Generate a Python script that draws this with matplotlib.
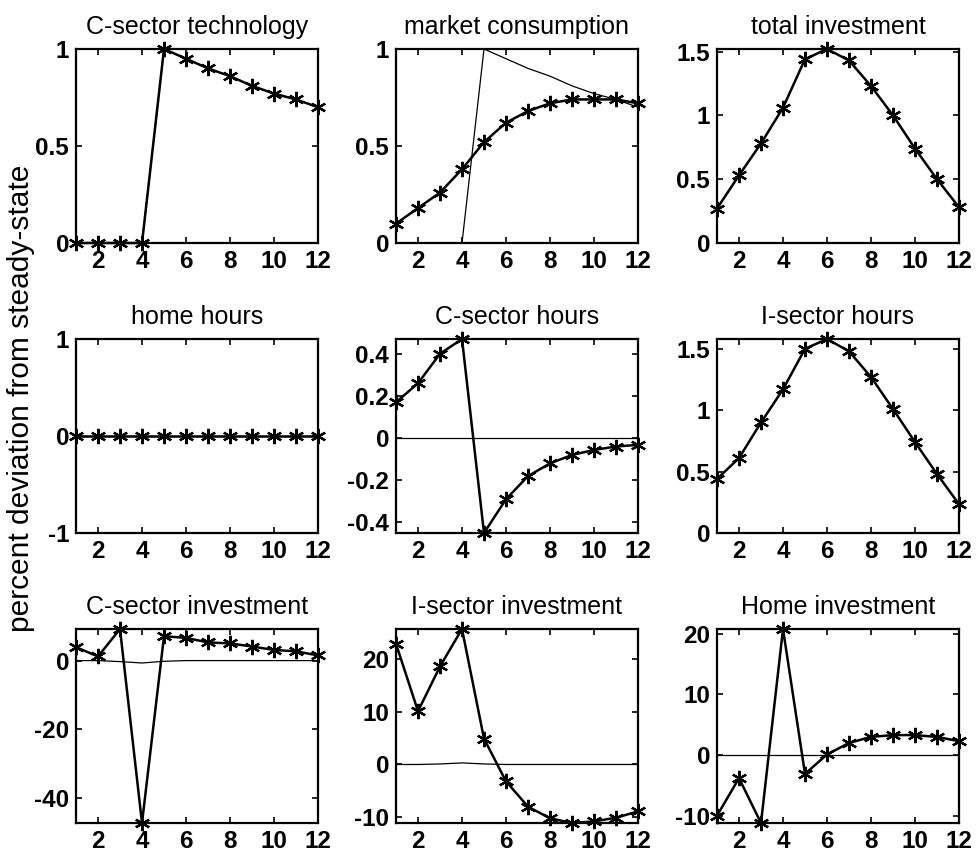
import numpy as np
import matplotlib.pyplot as plt

plt.rcParams['font.family'] = ['Liberation Sans', 'DejaVu Sans']

periods = np.arange(1, 13)

titles = ['C-sector technology', 'market consumption', 'total investment',
          'home hours', 'C-sector hours', 'I-sector hours',
          'C-sector investment', 'I-sector investment', 'Home investment']

# starred (thick) responses
c_tech = [0, 0, 0, 0, 1.0, 0.95, 0.90, 0.86, 0.81, 0.77, 0.74, 0.70]
mkt_cons = [0.10, 0.18, 0.26, 0.38, 0.52, 0.62, 0.68, 0.72, 0.74, 0.74, 0.74, 0.72]
tot_inv = [0.27, 0.53, 0.78, 1.06, 1.44, 1.52, 1.43, 1.23, 1.00, 0.74, 0.50, 0.28]
home_hrs = [0] * 12
c_hrs = [0.17, 0.26, 0.40, 0.47, -0.45, -0.29, -0.18, -0.12, -0.08, -0.056, -0.04, -0.032]
i_hrs = [0.44, 0.61, 0.90, 1.17, 1.50, 1.58, 1.48, 1.27, 1.01, 0.74, 0.48, 0.235]
c_inv = [3.9, 1.2, 9.2, -47.3, 7.1, 6.6, 5.3, 5.0, 4.1, 3.1, 2.7, 1.5]
i_inv = [22.9, 10.1, 18.6, 25.7, 4.9, -3.2, -8.0, -10.2, -11.1, -10.8, -10.1, -8.9]
h_inv = [-10.0, -3.8, -11.2, 20.8, -3.1, 0.1, 2.0, 3.0, 3.3, 3.3, 3.0, 2.3]

# thin comparison lines
zeros = [0] * 12
c_inv_thin = [0, 0, -0.3, -0.7, -0.2, 0, 0, 0, 0, 0, 0, 0]
i_inv_thin = [0, 0, 0.1, 0.3, 0.1, 0, 0, 0, 0, 0, 0, 0]

thick = [c_tech, mkt_cons, tot_inv, home_hrs, c_hrs, i_hrs, c_inv, i_inv, h_inv]
thin = [c_tech, c_tech, zeros, zeros, zeros, zeros, c_inv_thin, i_inv_thin, zeros]

yticks = [[0, 0.5, 1], [0, 0.5, 1], [0, 0.5, 1, 1.5],
          [-1, 0, 1], [-0.4, -0.2, 0, 0.2, 0.4], [0, 0.5, 1, 1.5],
          [-40, -20, 0], [-10, 0, 10, 20], [-10, 0, 10, 20]]

W, H = 978, 857
fig = plt.figure(figsize=(W / 100, H / 100), dpi=100)

lefts = [76, 396, 717]
tops = [49, 339, 629]
aw, ah = 242, 194

asterisk = (6, 2, 0)

for i in range(9):
    r, c = divmod(i, 3)
    ax = fig.add_axes([lefts[c] / W, 1 - (tops[r] + ah) / H, aw / W, ah / H])
    ax.plot(periods, thin[i], color='black', lw=0.9)
    ax.plot(periods, thick[i], color='black', lw=1.8, marker=asterisk,
            markersize=11, markeredgewidth=1.6, clip_on=False)
    ax.set_xlim(1, 12)
    if i == 3:
        ax.set_ylim(-1, 1)
    else:
        lo = min(min(thick[i]), min(thin[i]))
        hi = max(max(thick[i]), max(thin[i]))
        ax.set_ylim(lo, hi)
    ax.set_xticks(range(2, 13, 2))
    ax.set_yticks(yticks[i])
    ax.set_yticklabels([('%g' % v) for v in yticks[i]])
    ax.tick_params(direction='in', top=True, right=True, length=4, width=1.2,
                   labelsize=17.5, pad=5)
    for lab in ax.get_xticklabels() + ax.get_yticklabels():
        lab.set_fontweight('bold')
    for s in ax.spines.values():
        s.set_linewidth(1.6)
    ax.set_title(titles[i], fontsize=18, pad=11)

fig.text(21 / W, 1 - 398 / H, 'percent deviation from steady-state',
         rotation=90, ha='center', va='center', fontsize=21.5)

fig.savefig('out.png', dpi=100)
